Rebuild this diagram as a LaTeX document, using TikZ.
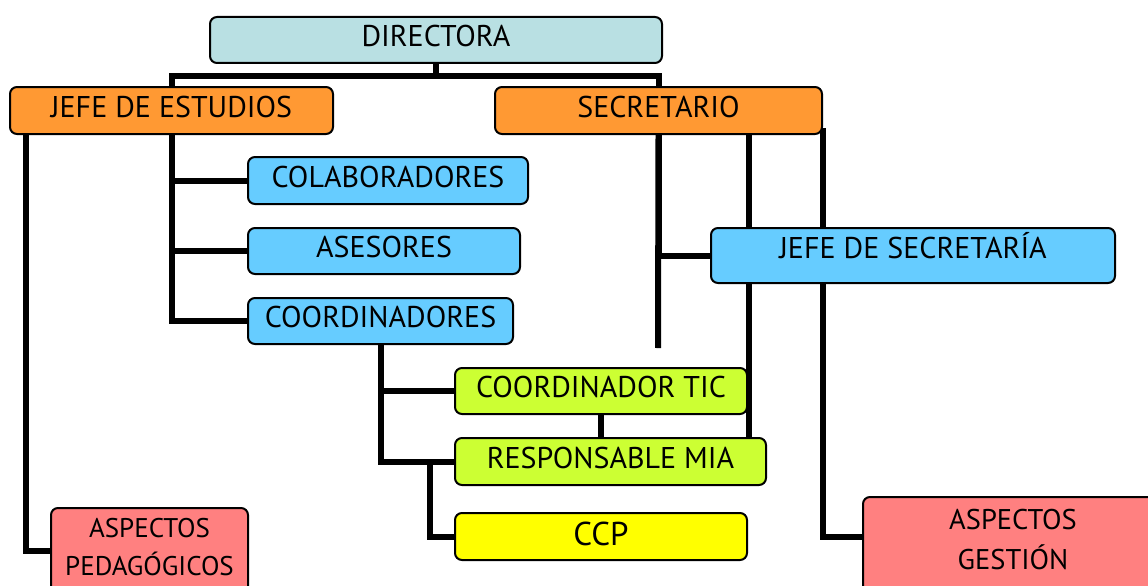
\documentclass[tikz,border=0pt]{standalone}
\usepackage{fontspec}
\setmainfont{PT Sans}
\usetikzlibrary{backgrounds}
\definecolor{dircol}{RGB}{185,224,227}
\definecolor{naranja}{RGB}{255,153,51}
\definecolor{azul}{RGB}{102,204,255}
\definecolor{lima}{RGB}{204,255,51}
\definecolor{amarillo}{RGB}{255,255,0}
\definecolor{rosa}{RGB}{255,128,128}
\tikzset{
  borde/.style={draw, line width=2pt, rounded corners=7pt, inner sep=0pt, align=center},
  caja/.style={borde, font=\fontsize{30}{36}\selectfont, text height=15pt, text depth=2pt},
  cajados/.style={borde, font=\fontsize{27}{38}\selectfont},
  linea/.style={line width=6pt}
}
\begin{document}
\begin{tikzpicture}[x=1pt,y=-1pt]
\useasboundingbox (0,0) rectangle (1148,586);

\node[caja, fill=dircol, minimum width=452pt, minimum height=46pt] (dir) at (436,40) {DIRECTORA};
\node[caja, fill=naranja, minimum width=323pt, minimum height=47pt] (je) at (171.5,110.5) {JEFE DE ESTUDIOS};
\node[caja, fill=naranja, minimum width=327pt, minimum height=47pt] (sec) at (658.5,110.5) {SECRETARIO};

\node[caja, fill=azul, minimum width=280pt, minimum height=47pt] (colab) at (388,180.5) {COLABORADORES};
\node[caja, fill=azul, minimum width=272pt, minimum height=46pt] (ases) at (384,251) {ASESORES};
\node[caja, fill=azul, minimum width=265pt, minimum height=46pt] (coord) at (380.5,321) {COORDINADORES};
\node[caja, fill=azul, minimum width=404pt, minimum height=55pt, text height=10pt, text depth=5pt] (jsec) at (913,255.5) {JEFE DE SECRETARÍA};

\node[caja, fill=lima, minimum width=292pt, minimum height=46pt] (tic) at (601,391) {COORDINADOR TIC};
\node[caja, fill=lima, minimum width=311pt, minimum height=47pt] (mia) at (610.5,461.5) {RESPONSABLE MIA};
\node[caja, fill=amarillo, minimum width=292pt, minimum height=47pt, font=\fontsize{33}{38}\selectfont, text height=19pt, text depth=1pt] (ccp) at (601,536.5) {CCP};

\node[cajados, fill=rosa, minimum width=197pt, minimum height=86pt] (pedag) at (149.5,551) {ASPECTOS\\PEDAGÓGICOS\rule[-9pt]{0pt}{9pt}};
\node[cajados, fill=rosa, minimum width=300pt, minimum height=110pt, font=\fontsize{28.5}{40}\selectfont] (ges) at (1013,552) {ASPECTOS\\GESTIÓN\rule[-25pt]{0pt}{25pt}};

\coordinate (secfin) at (658,348);
\coordinate (m1) at ([xshift=-18pt]mia.north east);
\coordinate (g1) at ([yshift=15pt]ges.west);

\begin{scope}[on background layer]
\draw[linea] (dir.south) -- ++(0,12) -| (je.north);
\draw[linea] (dir.south) -- ++(0,12) -| (sec.north);

\draw[linea] ([xshift=17pt]je.south west) |- (pedag.west);
\draw[linea] (je.south) |- (colab.west);
\draw[linea] (je.south) |- (ases.west);
\draw[linea] (je.south) |- (coord.west);

\draw[linea] (coord.south) |- (tic.west);
\draw[linea] (coord.south) |- (mia.west);
\draw[linea] ([xshift=-24pt]mia.west) |- (ccp.west);
\draw[linea] (tic.south) -- (tic.south |- mia.north);

\draw[linea] (sec.south) -- (secfin);
\draw[linea] (sec.south) |- (jsec.west);
\draw[linea] (m1) -- (m1 |- sec.south);
\draw[linea] ([yshift=7pt]sec.south east) |- (g1);
\end{scope}
\end{tikzpicture}
\end{document}
